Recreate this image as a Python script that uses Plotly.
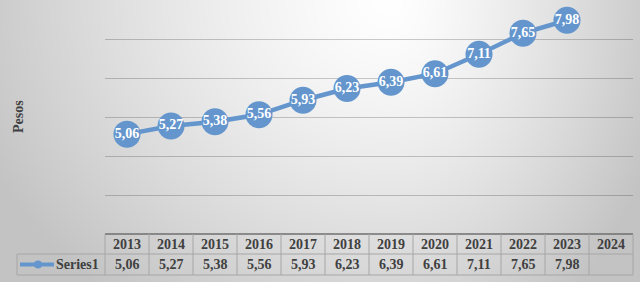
import base64, struct, zlib
import numpy as np
import plotly.graph_objects as go

years = ["2013", "2014", "2015", "2016", "2017", "2018", "2019", "2020", "2021", "2022", "2023", "2024"]
values = [5.06, 5.27, 5.38, 5.56, 5.93, 6.23, 6.39, 6.61, 7.11, 7.65, 7.98, None]
series_name = "Series1"
axis_title = "Pesos"

W, H = 640, 282
ML, MR, MT, MB = 105, 7, 0, 48
PW, PH = W - ML - MR, H - MT - MB

BLUE = "#6496CD"
TXT = "#404040"
SERIF = "Liberation Serif, Times New Roman, serif"


def fmt(v):
    return "" if v is None else f"{v:.2f}".replace(".", ",")


# background gradient image
xs = np.arange(W)[None, :].astype(float)
ys = np.arange(H)[:, None].astype(float)
cx = 390.0
dx = np.where(xs < cx, (xs - cx) / 390.0, (xs - cx) / 250.0)
dy = ys / 330.0
r = np.sqrt(dx ** 2 + dy ** 2)
g = 255 - 50 * np.clip(r, 0, 1.3) ** 1.3
g = np.clip(g, 195, 255).astype(np.uint8)
raw = b"".join(b"\x00" + g[i].tobytes() for i in range(H))


def chunk(t, d):
    c = struct.pack(">I", len(d)) + t + d
    return c + struct.pack(">I", zlib.crc32(t + d) & 0xffffffff)


png = b"\x89PNG\r\n\x1a\n" + chunk(b"IHDR", struct.pack(">IIBBBBB", W, H, 8, 0, 0, 0, 0)) \
    + chunk(b"IDAT", zlib.compress(raw, 9)) + chunk(b"IEND", b"")
bg_uri = "data:image/png;base64," + base64.b64encode(png).decode()

fig = go.Figure()
fig.add_trace(go.Scatter(
    x=years, y=values, mode="lines+markers+text",
    line=dict(color=BLUE, width=4.5),
    marker=dict(size=27, color=BLUE),
    text=[fmt(v) for v in values], textposition="middle center",
    textfont=dict(family=SERIF, size=14, color="white", weight="bold"),
    cliponaxis=False, showlegend=False, name=series_name,
))

n = len(years)


def px_to_py(py):
    return (H - MB - py) / PH


def px_to_px(px):
    return (px - ML) / PW


shapes = []
annotations = []
y_top, y_mid, y_bot = px_to_py(234), px_to_py(254), px_to_py(275)
x_leg = -2 / n
line_c = "#A6A6A6"
shapes.append(dict(type="line", xref="paper", yref="paper", x0=0, x1=1, y0=y_top, y1=y_top,
                   line=dict(color="#6F6F6F", width=1.5)))
for yy in (y_mid, y_bot):
    shapes.append(dict(type="line", xref="paper", yref="paper", x0=x_leg, x1=1, y0=yy, y1=yy,
                       line=dict(color=line_c, width=1)))
for k in range(n + 1):
    shapes.append(dict(type="line", xref="paper", yref="paper", x0=k / n, x1=k / n, y0=y_top, y1=y_bot,
                       line=dict(color=line_c, width=1)))
shapes.append(dict(type="line", xref="paper", yref="paper", x0=x_leg, x1=x_leg, y0=y_mid, y1=y_bot,
                   line=dict(color=line_c, width=1)))
yk = (y_mid + y_bot) / 2
shapes.append(dict(type="line", xref="paper", yref="paper", x0=px_to_px(20), x1=px_to_px(54), y0=yk, y1=yk,
                   line=dict(color=BLUE, width=4)))
shapes.append(dict(type="circle", xref="paper", yref="paper", x0=px_to_px(34), x1=px_to_px(42),
                   y0=yk - 4 / PH, y1=yk + 4 / PH, fillcolor=BLUE, line=dict(width=0)))

tf = dict(family=SERIF, size=14, color=TXT, weight="bold")
for i, (yr, v) in enumerate(zip(years, values)):
    xc = (i + 0.5) / n
    annotations.append(dict(xref="paper", yref="paper", x=xc, y=(y_top + y_mid) / 2, text=yr,
                            showarrow=False, font=tf, xanchor="center", yanchor="middle"))
    annotations.append(dict(xref="paper", yref="paper", x=xc, y=yk, text=fmt(v),
                            showarrow=False, font=tf, xanchor="center", yanchor="middle"))
annotations.append(dict(xref="paper", yref="paper", x=px_to_px(101), y=yk, text=series_name,
                        showarrow=False, font=tf, xanchor="right", yanchor="middle"))
annotations.append(dict(xref="paper", yref="paper", x=px_to_px(18), y=px_to_py(117), text=axis_title,
                        showarrow=False, textangle=-90, xanchor="center", yanchor="middle",
                        font=dict(family=SERIF, size=14, color=TXT, weight="bold")))

fig.update_layout(
    width=W, height=H, margin=dict(l=ML, r=MR, t=MT, b=MB),
    paper_bgcolor="#D8D8D8", plot_bgcolor="rgba(0,0,0,0)",
    shapes=shapes, annotations=annotations,
    images=[dict(source=bg_uri, xref="paper", yref="paper", x=-ML / PW, y=1 + MT / PH,
                 sizex=W / PW, sizey=H / PH, xanchor="left", yanchor="top",
                 sizing="stretch", layer="below")],
    xaxis=dict(type="category", range=[-0.5, n - 0.5], showticklabels=False, showgrid=False,
               zeroline=False, showline=False, ticks=""),
    yaxis=dict(range=[2.5, 8.5], tick0=2.5, dtick=1, showticklabels=False, showgrid=True,
               gridcolor="rgba(0,0,0,0.2)", gridwidth=1, zeroline=False, showline=False, ticks=""),
)
fig.write_html("out.html", config={"displayModeBar": False},
               post_script="document.body.style.margin='0';document.body.style.overflow='hidden';")
